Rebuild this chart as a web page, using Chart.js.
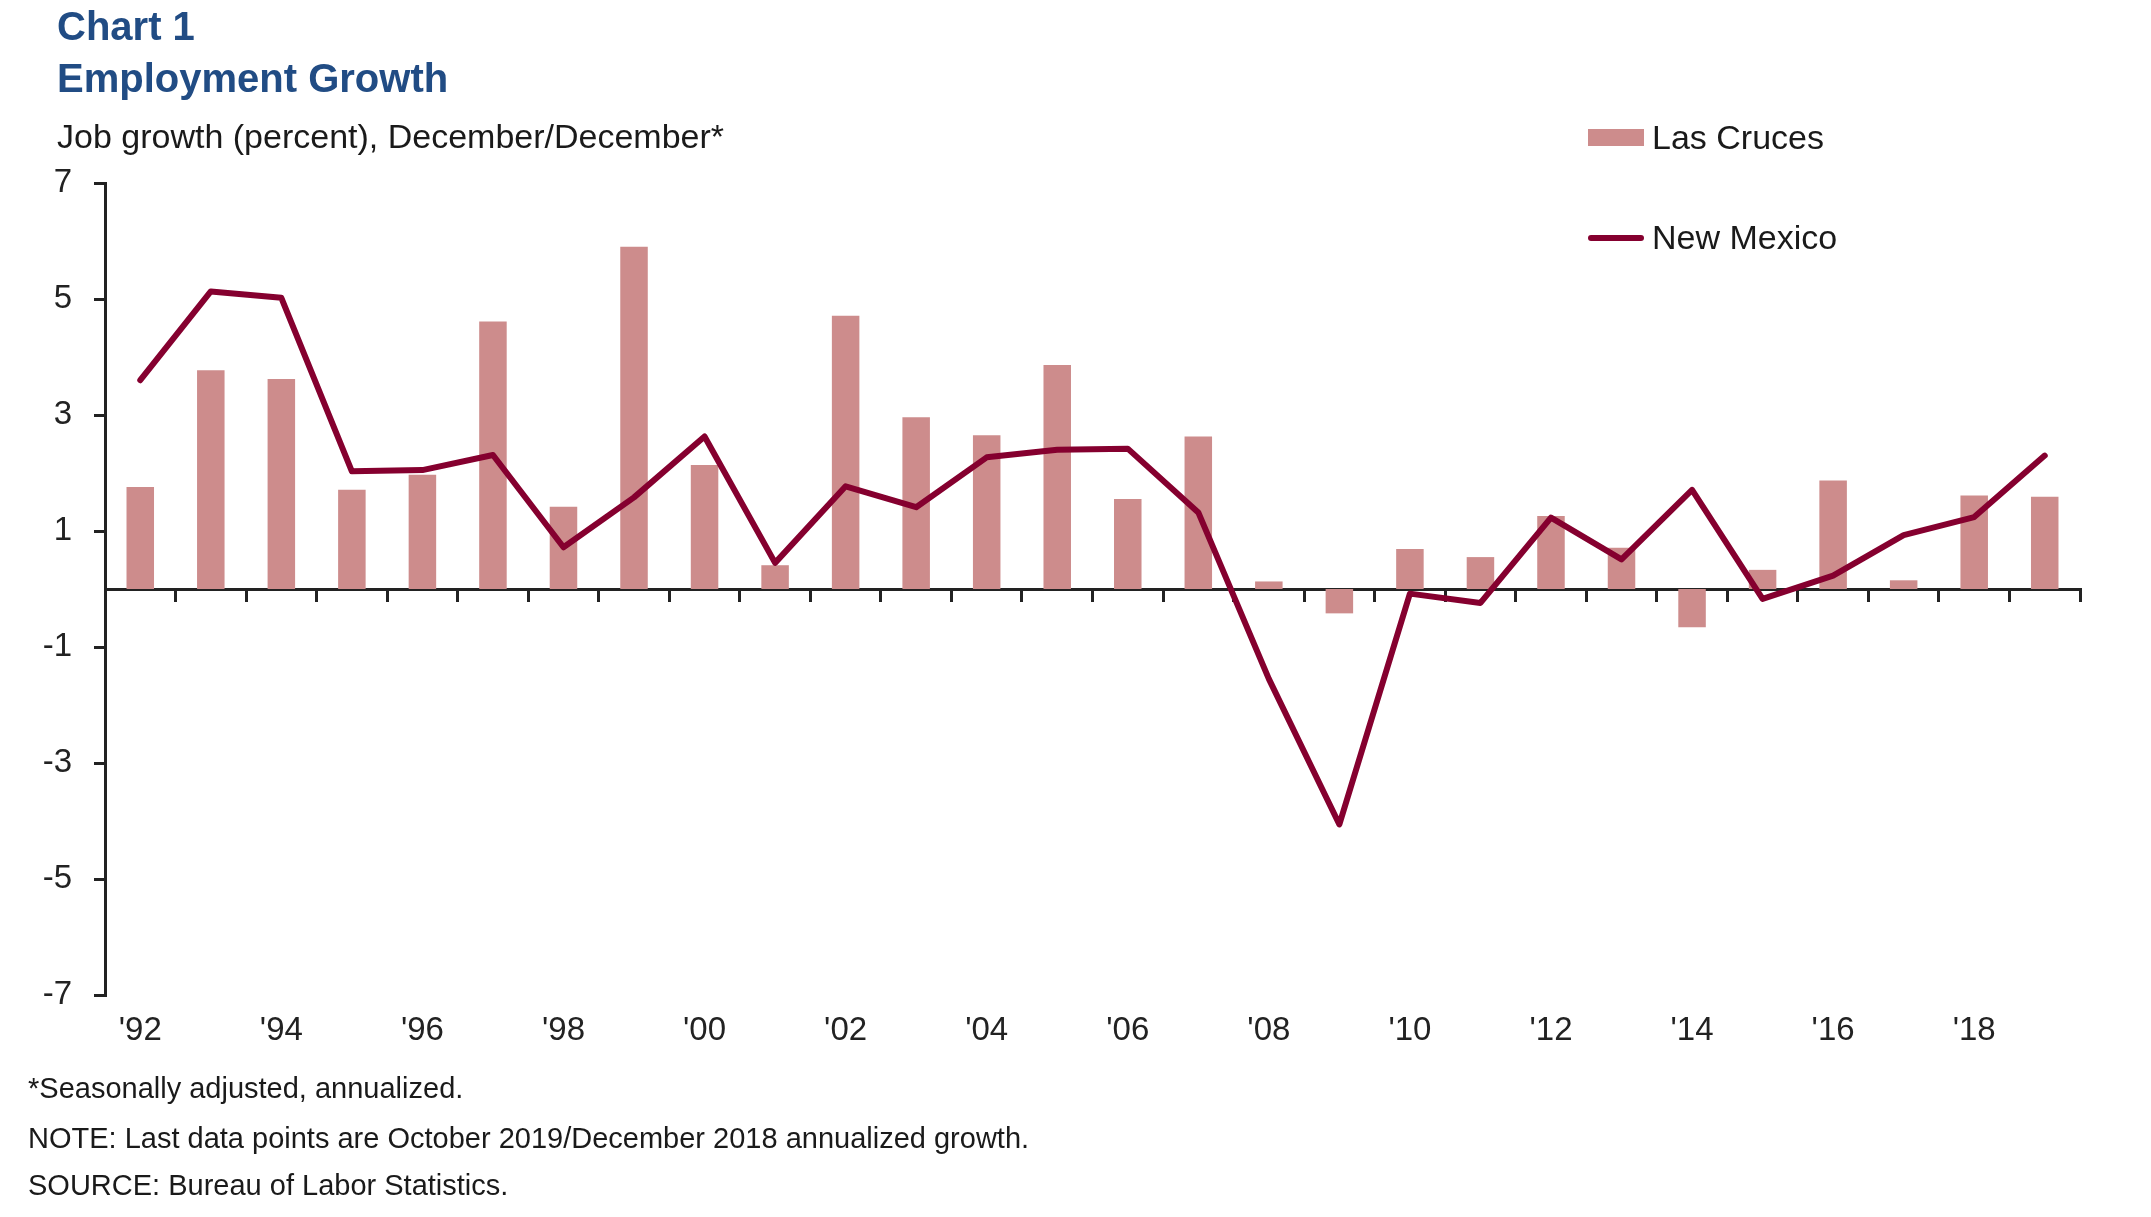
<!DOCTYPE html>
<html>
<head>
<meta charset="utf-8">
<script src="https://cdn.jsdelivr.net/npm/chart.js@4"></script>
<style>
	body { margin: 0; background: #fff; }
	#pageContentContainer { position: relative; width: 2151px; height: 1217px; font-family: "Liberation Sans", Arial, sans-serif; color: #1a1a1a; overflow: hidden; }
	#chartCanvas { position: absolute; left: 0; top: 0; }
	.chartText { position: absolute; white-space: nowrap; line-height: 1; }
	.chartTitle { left: 57px; font-size: 40px; font-weight: bold; color: #214c84; }
	#subtitle { left: 57px; top: 119px; font-size: 34px; }
	.footnote { left: 28px; font-size: 29px; }
	#legendContainer { position: absolute; left: 1588px; top: 120px; }
	.legendItem { position: absolute; left: 0; height: 34px; white-space: nowrap; font-size: 34px; line-height: 1; }
	.legendBox { position: absolute; left: 0; top: 9px; width: 56px; height: 17px; }
	.legendLine { position: absolute; left: 0; top: 15px; width: 56px; height: 6px; border-radius: 3px; }
	.legendText { position: absolute; left: 64px; top: 0; }
</style>
</head>
<body>
<div id="pageContentContainer">
	<canvas id="chartCanvas" width="2151" height="1217"></canvas>
	<div class="chartText chartTitle" style="top: 6px;">Chart 1</div>
	<div class="chartText chartTitle" style="top: 58px;">Employment Growth</div>
	<div class="chartText" id="subtitle">Job growth (percent), December/December*</div>
	<div id="legendContainer"></div>
	<div class="chartText footnote" style="top: 1074px;">*Seasonally adjusted, annualized.</div>
	<div class="chartText footnote" style="top: 1124px;">NOTE: Last data points are October 2019/December 2018 annualized growth.</div>
	<div class="chartText footnote" style="top: 1171px;">SOURCE: Bureau of Labor Statistics.</div>
</div>
<script>
const years = ["'92", "'93", "'94", "'95", "'96", "'97", "'98", "'99", "'00", "'01", "'02", "'03", "'04", "'05",
	"'06", "'07", "'08", "'09", "'10", "'11", "'12", "'13", "'14", "'15", "'16", "'17", "'18", "'19"];

const lasCruces = [1.76, 3.77, 3.62, 1.71, 1.97, 4.61, 1.42, 5.90, 2.14, 0.41, 4.71, 2.96, 2.65, 3.86,
	1.55, 2.63, 0.13, -0.42, 0.69, 0.55, 1.26, 0.71, -0.66, 0.33, 1.87, 0.15, 1.61, 1.59];

const newMexico = [3.60, 5.13, 5.02, 2.03, 2.05, 2.31, 0.72, 1.58, 2.63, 0.45, 1.77, 1.41, 2.27, 2.40,
	2.42, 1.32, -1.55, -4.06, -0.08, -0.24, 1.23, 0.51, 1.71, -0.17, 0.23, 0.93, 1.24, 2.30];

const seriesNames = ['Las Cruces', 'New Mexico'];
const yMin = -7, yMax = 7, yStep = 2;

const axisColor = '#222222';
const barColor = '#cd8c8c';
const lineColor = '#85002f';
const fontFamily = '"Liberation Sans", Arial, sans-serif';

// legend drawn in html, one row per dataset
const htmlLegendPlugin = {
	id: 'htmlLegend',
	afterUpdate(chart, args, options) {
		const container = document.getElementById(options.containerID);
		container.innerHTML = '';
		const items = chart.options.plugins.legend.labels.generateLabels(chart)
			.sort((a, b) => a.datasetIndex - b.datasetIndex);
		items.forEach((item, i) => {
			const row = document.createElement('div');
			row.className = 'legendItem';
			row.style.top = (i * options.rowGap) + 'px';
			const mark = document.createElement('span');
			const type = chart.data.datasets[item.datasetIndex].type;
			mark.className = type === 'line' ? 'legendLine' : 'legendBox';
			mark.style.background = type === 'line' ? item.strokeStyle : item.fillStyle;
			const text = document.createElement('span');
			text.className = 'legendText';
			text.innerText = item.text;
			row.appendChild(mark);
			row.appendChild(text);
			container.appendChild(row);
		});
	}
};

new Chart(document.getElementById('chartCanvas'), {
	data: {
		labels: years,
		datasets: [{
			type: 'bar',
			label: seriesNames[0],
			data: lasCruces,
			backgroundColor: barColor,
			borderWidth: 0,
			barPercentage: 0.39,
			categoryPercentage: 1,
			order: 1
		}, {
			type: 'line',
			label: seriesNames[1],
			data: newMexico,
			borderColor: lineColor,
			backgroundColor: lineColor,
			borderWidth: 6,
			borderCapStyle: 'round',
			borderJoinStyle: 'round',
			pointRadius: 0,
			tension: 0,
			order: 0
		}]
	},
	options: {
		responsive: false,
		animation: false,
		devicePixelRatio: 1,
		layout: { padding: { top: 183, right: 71, left: 0, bottom: 0 } },
		plugins: {
			legend: { display: false },
			tooltip: { enabled: false },
			htmlLegend: { containerID: 'legendContainer', rowGap: 100 }
		},
		scales: {
			x: {
				type: 'category',
				position: 'bottom',
				offset: true,
				grid: { display: false, drawTicks: false },
				border: { display: false },
				ticks: {
					autoSkip: false,
					maxRotation: 0,
					padding: 16,
					color: axisColor,
					font: { family: fontFamily, size: 33 },
					callback: (value, index) => index % 2 === 0 ? years[index] : ''
				},
				afterFit: (scale) => { scale.height = 222; }
			},
			xZero: {
				type: 'category',
				axis: 'x',
				position: { y: 0 },
				offset: true,
				grid: { offset: true, drawOnChartArea: false, drawTicks: true, tickLength: 11, color: axisColor, lineWidth: 3 },
				border: { display: true, color: axisColor, width: 3 },
				ticks: { display: false }
			},
			y: {
				min: yMin,
				max: yMax,
				grid: { drawOnChartArea: false, drawTicks: true, tickLength: 11, color: axisColor, lineWidth: 3 },
				border: { display: true, color: axisColor, width: 3 },
				ticks: {
					stepSize: yStep,
					padding: 22,
					color: axisColor,
					font: { family: fontFamily, size: 33 }
				},
				afterFit: (scale) => { scale.width = 105; }
			}
		}
	},
	plugins: [htmlLegendPlugin]
});
</script>
</body>
</html>
